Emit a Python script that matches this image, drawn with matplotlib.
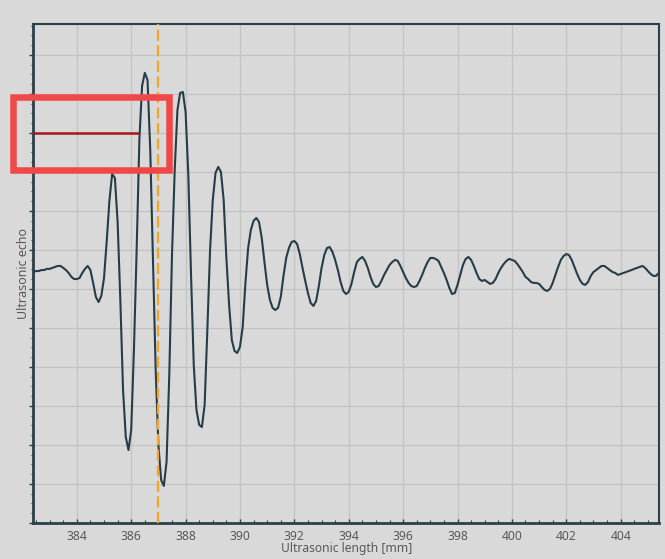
import numpy as np
import matplotlib
matplotlib.use("Agg")
import matplotlib.pyplot as plt
from matplotlib.ticker import MultipleLocator
from matplotlib.patches import Rectangle

# Echo signal sampled every 0.1 mm starting at 382.4 mm
x_start_mm = 382.4
x_step_mm = 0.1
echo = [
    0.087, 0.092, 0.092, 0.097, 0.097, 0.103, 0.103, 0.108, 0.113, 0.118,
    0.118, 0.108, 0.097, 0.082, 0.062, 0.051, 0.051, 0.056, 0.082, 0.103,
    0.118, 0.097, 0.031, -0.041, -0.067, -0.036, 0.056, 0.246, 0.456, 0.590,
    0.569, 0.344, -0.056, -0.518, -0.759, -0.826, -0.723, -0.313, 0.200, 0.764,
    1.041, 1.108, 1.072, 0.713, 0.149, -0.415, -0.800, -0.979, -1.010, -0.887,
    -0.441, 0.174, 0.610, 0.918, 1.005, 1.010, 0.908, 0.585, 0.072, -0.390,
    -0.621, -0.697, -0.708, -0.595, -0.210, 0.200, 0.456, 0.595, 0.626, 0.600,
    0.456, 0.159, -0.082, -0.262, -0.318, -0.328, -0.297, -0.195, 0.031, 0.210,
    0.303, 0.349, 0.364, 0.344, 0.262, 0.138, 0.021, -0.056, -0.097, -0.108,
    -0.097, -0.041, 0.067, 0.159, 0.210, 0.241, 0.246, 0.231, 0.179, 0.108,
    0.041, -0.021, -0.072, -0.087, -0.062, 0.015, 0.108, 0.174, 0.210, 0.215,
    0.190, 0.149, 0.097, 0.036, -0.010, -0.026, -0.015, 0.026, 0.087, 0.138,
    0.154, 0.164, 0.144, 0.108, 0.062, 0.026, 0.010, 0.015, 0.041, 0.072,
    0.097, 0.123, 0.138, 0.149, 0.144, 0.118, 0.087, 0.056, 0.031, 0.015,
    0.010, 0.015, 0.041, 0.072, 0.108, 0.138, 0.159, 0.159, 0.154, 0.144,
    0.113, 0.082, 0.046, 0.005, -0.026, -0.021, 0.021, 0.072, 0.123, 0.154,
    0.164, 0.149, 0.118, 0.082, 0.051, 0.041, 0.046, 0.036, 0.026, 0.031,
    0.051, 0.082, 0.108, 0.128, 0.144, 0.154, 0.149, 0.144, 0.128, 0.108,
    0.087, 0.062, 0.051, 0.036, 0.031, 0.031, 0.026, 0.010, -0.005, -0.010,
    0.000, 0.031, 0.072, 0.113, 0.149, 0.169, 0.179, 0.174, 0.149, 0.113,
    0.077, 0.046, 0.026, 0.021, 0.036, 0.067, 0.087, 0.097, 0.108, 0.118,
    0.118, 0.108, 0.097, 0.087, 0.082, 0.072, 0.077, 0.082, 0.087, 0.092,
    0.097, 0.103, 0.108, 0.113, 0.118, 0.108, 0.092, 0.077, 0.067, 0.067,
    0.082,
]
x_mm = x_start_mm + x_step_mm * np.arange(len(echo))

cursor_mm = 387.0            # marker position
ref_level = 0.8              # reference level
ref_end_mm = 386.25
x_ticks = [384, 386, 388, 390, 392, 394, 396, 398, 400, 402, 404]

bg = "#d9d9d9"
dark = "#2b4048"
txt = "#595959"
plt.rcParams["font.family"] = ["Noto Sans", "DejaVu Sans"]

fig = plt.figure(figsize=(6.65, 5.59), dpi=100, facecolor=bg)
ax = fig.add_axes([0.0501, 0.0639, 0.9413, 0.8926], facecolor=bg)

ax.plot(x_mm, echo, color="#263d47", lw=1.5, zorder=3, solid_joinstyle="round")
ax.axvline(cursor_mm, color="#f5a428", lw=1.6, dashes=(5, 2), zorder=4)
ax.plot([x_start_mm, ref_end_mm], [ref_level, ref_level], color="#a51919", lw=1.8, zorder=5)

ax.set_xlim(382.4, 405.42)
ax.set_ylim(-1.2015, 1.357)
ax.set_xticks(x_ticks)
ax.xaxis.set_minor_locator(MultipleLocator(0.5))
ax.yaxis.set_major_locator(MultipleLocator(0.2))
ax.yaxis.set_minor_locator(MultipleLocator(0.05))
ax.set_yticklabels([])
ax.grid(True, which="major", color="#c3c3c3", lw=0.9, zorder=0)
ax.set_axisbelow(True)

ax.tick_params(axis="x", which="major", direction="in", length=3, width=1,
               color=dark, labelsize=8.7, labelcolor=txt, pad=5)
ax.tick_params(axis="x", which="minor", direction="in", length=2, width=0.8, color=dark)
ax.tick_params(axis="y", which="major", direction="out", length=3, width=1, color=dark)
ax.tick_params(axis="y", which="minor", direction="out", length=1.5, width=0.8, color=dark)

for side in ["left", "bottom", "top", "right"]:
    ax.spines[side].set_color(dark)
    ax.spines[side].set_linewidth(1.5)
ax.spines["left"].set_linewidth(2.0)
ax.spines["bottom"].set_linewidth(2.0)

ax.set_xlabel("Ultrasonic length [mm]", fontsize=8.7, color=txt)
ax.xaxis.set_label_coords(0.5, -0.0385)
ax.set_ylabel("Ultrasonic echo", fontsize=9, color=txt)
ax.yaxis.set_label_coords(-0.006, 0.5)

# Highlight frame around the reference level
W, H = 665, 559
fig.patches.append(Rectangle((12.7 / W, (H - 169.7) / H), 156.0 / W, 72.7 / H,
                             transform=fig.transFigure, fill=False,
                             edgecolor="#f04848", lw=4.7, zorder=10))

fig.savefig("out.png", dpi=100, facecolor=bg)
